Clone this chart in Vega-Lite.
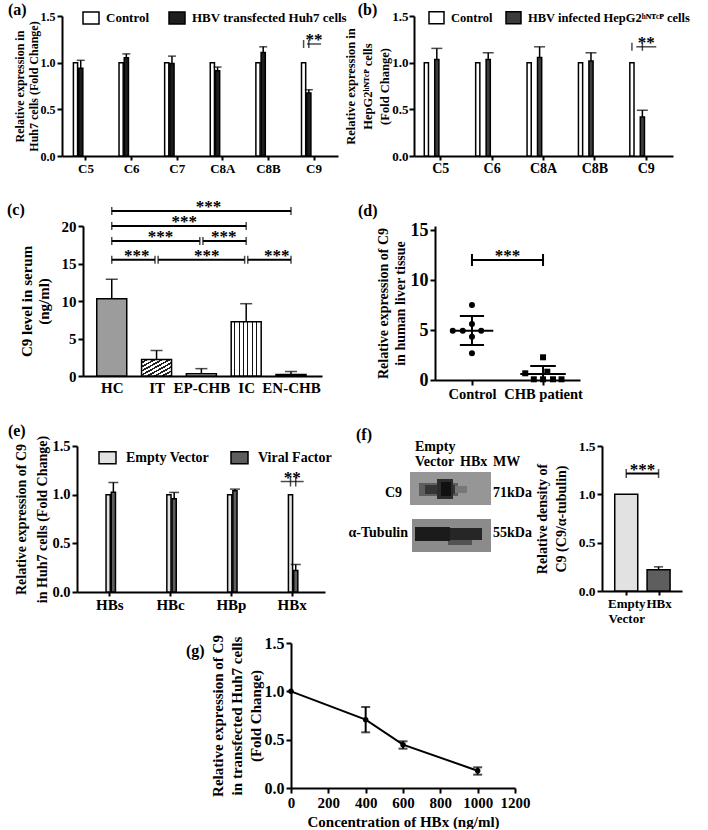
{
"$schema":"https://vega.github.io/schema/vega-lite/v6.json",
"background":"white",
"padding":{"left":0,"top":2,"right":0,"bottom":0},
"config":{
 "view":{"stroke":null},
 "font":"Liberation Serif",
 "axis":{"labelFont":"Liberation Serif","labelFontWeight":"bold","labelColor":"black","titleFont":"Liberation Serif","titleFontWeight":"bold","titleColor":"black","domainColor":"black","domainWidth":2,"tickColor":"black","tickWidth":2,"tickSize":5,"grid":false,"labelPadding":2,"labelFlush":false,"labelOverlap":false,"labelAngle":0},
 "title":{"font":"Liberation Serif","fontWeight":"bold","fontSize":16,"color":"black","anchor":"start","frame":"bounds"},
 "text":{"font":"Liberation Serif","fontWeight":"bold","color":"black"},
 "legend":{"labelFont":"Liberation Serif","labelFontWeight":"bold","labelColor":"black","padding":0,"offset":0}
},
"datasets":{
 "sp":[{"a":1}],
 "cbr":[{"id":1,"pos":0,"y":22},{"id":1,"pos":4,"y":22},{"id":2,"pos":0,"y":20},{"id":2,"pos":3,"y":20},{"id":3,"pos":0,"y":18},{"id":3,"pos":1.965,"y":18},{"id":4,"pos":2.035,"y":18},{"id":4,"pos":3,"y":18},{"id":5,"pos":0,"y":15.5},{"id":5,"pos":0.965,"y":15.5},{"id":6,"pos":1.035,"y":15.5},{"id":6,"pos":2.965,"y":15.5},{"id":7,"pos":3.035,"y":15.5},{"id":7,"pos":4,"y":15.5}]
},
"resolve":{"scale":{"fill":"independent","shape":"independent"},"legend":{"fill":"independent","shape":"independent"}},
"spacing":9,
"vconcat":[
 {"spacing":22,
  "resolve":{"scale":{"fill":"independent","shape":"independent"},"legend":{"fill":"independent","shape":"independent"}},
  "vconcat":[
  {"spacing":0,
   "resolve":{"scale":{"fill":"independent"},"legend":{"fill":"independent"}},
   "hconcat":[
   {"width":1,"height":1,"data":{"name":"sp"},"mark":{"type":"point","opacity":0},"encoding":{}},
   {"spacing":-3,
    "resolve":{"scale":{"fill":"independent"},"legend":{"fill":"independent"}},
    "hconcat":[
   {
    "width":276,"height":140,
    "title":{"text":"(a)","dx":-5,"offset":-9},
    "data":{"values":[
     {"gene":"C5","group":"Control","value":1},
     {"gene":"C5","group":"HBV transfected Huh7 cells","value":0.94,"err":1.025},
     {"gene":"C6","group":"Control","value":1},
     {"gene":"C6","group":"HBV transfected Huh7 cells","value":1.054,"err":1.094},
     {"gene":"C7","group":"Control","value":1},
     {"gene":"C7","group":"HBV transfected Huh7 cells","value":0.99,"err":1.07},
     {"gene":"C8A","group":"Control","value":1},
     {"gene":"C8A","group":"HBV transfected Huh7 cells","value":0.914,"err":0.953},
     {"gene":"C8B","group":"Control","value":1},
     {"gene":"C8B","group":"HBV transfected Huh7 cells","value":1.108,"err":1.17},
     {"gene":"C9","group":"Control","value":1},
     {"gene":"C9","group":"HBV transfected Huh7 cells","value":0.676,"err":0.71}
    ]},
    "encoding":{"x":{"field":"gene","type":"nominal","scale":{"domain":["C5","C6","C7","C8A","C8B","C9"],"paddingInner":0.45,"paddingOuter":0.25},"axis":{"title":null,"ticks":true,"tickSize":4,"labelFontSize":13,"labelPadding":2}}},
    "layer":[
     {"mark":{"type":"bar","stroke":"black","strokeWidth":1.5},
      "encoding":{
       "xOffset":{"field":"group","type":"nominal","scale":{"domain":["Control","HBV transfected Huh7 cells"],"paddingInner":0.2}},
       "y":{"field":"value","type":"quantitative","scale":{"domain":[0,1.5],"nice":false},"axis":{"values":[0,0.5,1,1.5],"format":".1f","labelFontSize":12,"title":["Relative expression in","Huh7 cells (Fold Change)"],"titleFontSize":12,"titleLineHeight":14,"titlePadding":0}},
       "fill":{"field":"group","type":"nominal","scale":{"domain":["Control","HBV transfected Huh7 cells"],"range":["white","#1e1e1e"]},"legend":{"orient":"none","legendX":20,"legendY":-7,"direction":"horizontal","columns":2,"title":null,"symbolType":"M-1,-0.75H1V0.75H-1Z","symbolSize":256,"labelFontSize":13,"labelOffset":6,"columnPadding":16,"symbolStrokeColor":"black","symbolStrokeWidth":1.5,"encode":{"symbols":{"update":{"stroke":{"value":"black"},"strokeWidth":{"value":1.5}}}}}}
      }},
     {"transform":[{"filter":"isValid(datum.err)"}],
      "mark":{"type":"rule","color":"black","strokeWidth":1.5},
      "encoding":{
       "xOffset":{"field":"group","type":"nominal","scale":{"domain":["Control","HBV transfected Huh7 cells"],"paddingInner":0.2}},
       "y":{"field":"value","type":"quantitative","scale":{"domain":[0,1.5],"nice":false}},
       "y2":{"field":"err"}}},
     {"transform":[{"filter":"isValid(datum.err)"}],
      "mark":{"type":"tick","orient":"horizontal","color":"black","size":8,"thickness":1.5},
      "encoding":{
       "xOffset":{"field":"group","type":"nominal","scale":{"domain":["Control","HBV transfected Huh7 cells"],"paddingInner":0.2}},
       "y":{"field":"err","type":"quantitative","scale":{"domain":[0,1.5],"nice":false}}}},
     {"data":{"values":[{"gene":"C9","group":"Control","y":1.2},{"gene":"C9","group":"HBV transfected Huh7 cells","y":1.2}]},
      "mark":{"type":"tick","orient":"vertical","color":"black","size":8,"thickness":1.5},
      "encoding":{
       "xOffset":{"field":"group","type":"nominal","scale":{"domain":["Control","HBV transfected Huh7 cells"],"paddingInner":0.2}},
       "y":{"field":"y","type":"quantitative","scale":{"domain":[0,1.5],"nice":false}}}},
     {"data":{"values":[{"gene":"C9","y":1.2,"label":"**"}]},
      "mark":{"type":"tick","orient":"horizontal","color":"black","size":14,"thickness":1.5},
      "encoding":{"y":{"field":"y","type":"quantitative","scale":{"domain":[0,1.5],"nice":false}}}},
     {"data":{"values":[{"gene":"C9","y":1.2,"label":"**"}]},
      "mark":{"type":"text","fontSize":17,"baseline":"alphabetic","dy":1},
      "encoding":{"y":{"field":"y","type":"quantitative","scale":{"domain":[0,1.5],"nice":false}},"text":{"field":"label"}}}
    ]
   },
   {
    "width":259,"height":140,
    "title":{"text":"(b)","dx":13,"offset":-9},
    "data":{"values":[
     {"gene":"C5","group":"Control","value":1},
     {"gene":"C5","group":"HBV infected HepG2ʰᴺᵀᶜᴾ cells","value":1.035,"err":1.153},
     {"gene":"C6","group":"Control","value":1},
     {"gene":"C6","group":"HBV infected HepG2ʰᴺᵀᶜᴾ cells","value":1.035,"err":1.106},
     {"gene":"C8A","group":"Control","value":1},
     {"gene":"C8A","group":"HBV infected HepG2ʰᴺᵀᶜᴾ cells","value":1.056,"err":1.17},
     {"gene":"C8B","group":"Control","value":1},
     {"gene":"C8B","group":"HBV infected HepG2ʰᴺᵀᶜᴾ cells","value":1.017,"err":1.106},
     {"gene":"C9","group":"Control","value":1},
     {"gene":"C9","group":"HBV infected HepG2ʰᴺᵀᶜᴾ cells","value":0.419,"err":0.49}
    ]},
    "encoding":{"x":{"field":"gene","type":"nominal","scale":{"domain":["C5","C6","C8A","C8B","C9"],"paddingInner":0.36,"paddingOuter":0.2},"axis":{"title":null,"ticks":true,"tickSize":4,"labelFontSize":14,"labelPadding":1}}},
    "layer":[
     {"mark":{"type":"bar","stroke":"black","strokeWidth":1.5},
      "encoding":{
       "xOffset":{"field":"group","type":"nominal","scale":{"domain":["Control","HBV infected HepG2ʰᴺᵀᶜᴾ cells"],"paddingInner":0.36}},
       "y":{"field":"value","type":"quantitative","scale":{"domain":[0,1.5],"nice":false},"axis":{"values":[0,0.5,1,1.5],"format":".1f","labelFontSize":13,"labelPadding":1,"title":["Relative expression in","HepG2ʰᴺᵀᶜᴾ cells","(Fold Change)"],"titleFontSize":12.5,"titleLineHeight":17,"titlePadding":0}},
       "fill":{"field":"group","type":"nominal","scale":{"domain":["Control","HBV infected HepG2ʰᴺᵀᶜᴾ cells"],"range":["white","#3c3c3c"]},"legend":{"orient":"none","legendX":14,"legendY":-7,"direction":"horizontal","columns":2,"title":null,"symbolType":"M-1,-0.8H1V0.8H-1Z","symbolSize":225,"labelFontSize":12.5,"labelOffset":6,"columnPadding":10,"labelLimit":400,"symbolStrokeColor":"black","symbolStrokeWidth":1.5,"encode":{"symbols":{"update":{"stroke":{"value":"black"},"strokeWidth":{"value":1.5}}}}}}
      }},
     {"transform":[{"filter":"isValid(datum.err)"}],
      "mark":{"type":"rule","color":"black","strokeWidth":1.5},
      "encoding":{
       "xOffset":{"field":"group","type":"nominal","scale":{"domain":["Control","HBV infected HepG2ʰᴺᵀᶜᴾ cells"],"paddingInner":0.36}},
       "y":{"field":"value","type":"quantitative","scale":{"domain":[0,1.5],"nice":false}},
       "y2":{"field":"err"}}},
     {"transform":[{"filter":"isValid(datum.err)"}],
      "mark":{"type":"tick","orient":"horizontal","color":"black","size":11,"thickness":1.5},
      "encoding":{
       "xOffset":{"field":"group","type":"nominal","scale":{"domain":["Control","HBV infected HepG2ʰᴺᵀᶜᴾ cells"],"paddingInner":0.36}},
       "y":{"field":"err","type":"quantitative","scale":{"domain":[0,1.5],"nice":false}}}},
     {"data":{"values":[{"gene":"C9","group":"Control","y":1.17},{"gene":"C9","group":"HBV infected HepG2ʰᴺᵀᶜᴾ cells","y":1.17}]},
      "mark":{"type":"tick","orient":"vertical","color":"black","size":8,"thickness":1.5},
      "encoding":{
       "xOffset":{"field":"group","type":"nominal","scale":{"domain":["Control","HBV infected HepG2ʰᴺᵀᶜᴾ cells"],"paddingInner":0.36}},
       "y":{"field":"y","type":"quantitative","scale":{"domain":[0,1.5],"nice":false}}}},
     {"data":{"values":[{"gene":"C9","y":1.17,"label":"**"}]},
      "mark":{"type":"tick","orient":"horizontal","color":"black","size":20,"thickness":1.5},
      "encoding":{"y":{"field":"y","type":"quantitative","scale":{"domain":[0,1.5],"nice":false}}}},
     {"data":{"values":[{"gene":"C9","y":1.17,"label":"**"}]},
      "mark":{"type":"text","fontSize":17,"baseline":"alphabetic","dy":1},
      "encoding":{"y":{"field":"y","type":"quantitative","scale":{"domain":[0,1.5],"nice":false}},"text":{"field":"label"}}}
    ]
   }
  ]}]},
  {"spacing":0,
   "resolve":{"scale":{"fill":"independent","shape":"independent"},"legend":{"fill":"independent","shape":"independent"}},
   "hconcat":[
   {"width":1,"height":1,"data":{"name":"sp"},"mark":{"type":"point","opacity":0},"encoding":{}},
   {"spacing":36,
    "resolve":{"scale":{"fill":"independent","shape":"independent"},"legend":{"fill":"independent","shape":"independent"}},
    "hconcat":[
   {
    "width":239,"height":150,
    "title":{"text":"(c)","dx":-12,"offset":-20},
    "layer":[
     {"data":{"values":[
       {"cat":"HC","pos":0,"value":10.3,"err":12.9},
       {"cat":"IT","pos":1,"value":2.2,"err":3.4},
       {"cat":"EP-CHB","pos":2,"value":0.3,"err":0.98},
       {"cat":"IC","pos":3,"value":7.24,"err":9.64},
       {"cat":"EN-CHB","pos":4,"value":0.2,"err":0.6}]},
      "layer":[
       {"mark":{"type":"bar","orient":"vertical","width":30,"stroke":"black","strokeWidth":1.5},
        "encoding":{
         "x":{"field":"pos","type":"quantitative","scale":{"domain":[-0.53,4.58],"nice":false,"zero":false},"axis":{"title":null,"values":[0,1,2,3,4],"labelExpr":"['HC','IT','EP-CHB','IC','EN-CHB'][datum.value]","ticks":false,"labelFontSize":15,"labelPadding":4}},
         "y":{"field":"value","type":"quantitative","scale":{"domain":[0,20],"nice":false},"axis":{"values":[0,5,10,15,20],"labelFontSize":15,"title":["C9 level in serum","(ng/ml)"],"titleFontSize":15,"titleLineHeight":17,"titlePadding":10}},
         "fill":{"condition":[
           {"test":"datum.cat==='IT'","value":{"gradient":"linear","x1":0,"y1":0,"x2":1,"y2":1,"stops":[{"offset":0,"color":"#ffffff"},{"offset":0.069,"color":"#ffffff"},{"offset":0.069,"color":"#222222"},{"offset":0.125,"color":"#222222"},{"offset":0.125,"color":"#ffffff"},{"offset":0.194,"color":"#ffffff"},{"offset":0.194,"color":"#222222"},{"offset":0.25,"color":"#222222"},{"offset":0.25,"color":"#ffffff"},{"offset":0.319,"color":"#ffffff"},{"offset":0.319,"color":"#222222"},{"offset":0.375,"color":"#222222"},{"offset":0.375,"color":"#ffffff"},{"offset":0.444,"color":"#ffffff"},{"offset":0.444,"color":"#222222"},{"offset":0.5,"color":"#222222"},{"offset":0.5,"color":"#ffffff"},{"offset":0.569,"color":"#ffffff"},{"offset":0.569,"color":"#222222"},{"offset":0.625,"color":"#222222"},{"offset":0.625,"color":"#ffffff"},{"offset":0.694,"color":"#ffffff"},{"offset":0.694,"color":"#222222"},{"offset":0.75,"color":"#222222"},{"offset":0.75,"color":"#ffffff"},{"offset":0.819,"color":"#ffffff"},{"offset":0.819,"color":"#222222"},{"offset":0.875,"color":"#222222"},{"offset":0.875,"color":"#ffffff"},{"offset":0.944,"color":"#ffffff"},{"offset":0.944,"color":"#222222"},{"offset":1,"color":"#222222"}]}},
           {"test":"datum.cat==='IC'","value":{"gradient":"linear","x1":0,"y1":0,"x2":1,"y2":0,"stops":[{"offset":0,"color":"#ffffff"},{"offset":0.107,"color":"#ffffff"},{"offset":0.107,"color":"#111111"},{"offset":0.143,"color":"#111111"},{"offset":0.143,"color":"#ffffff"},{"offset":0.25,"color":"#ffffff"},{"offset":0.25,"color":"#111111"},{"offset":0.286,"color":"#111111"},{"offset":0.286,"color":"#ffffff"},{"offset":0.393,"color":"#ffffff"},{"offset":0.393,"color":"#111111"},{"offset":0.429,"color":"#111111"},{"offset":0.429,"color":"#ffffff"},{"offset":0.536,"color":"#ffffff"},{"offset":0.536,"color":"#111111"},{"offset":0.571,"color":"#111111"},{"offset":0.571,"color":"#ffffff"},{"offset":0.679,"color":"#ffffff"},{"offset":0.679,"color":"#111111"},{"offset":0.714,"color":"#111111"},{"offset":0.714,"color":"#ffffff"},{"offset":0.821,"color":"#ffffff"},{"offset":0.821,"color":"#111111"},{"offset":0.857,"color":"#111111"},{"offset":0.857,"color":"#ffffff"},{"offset":1,"color":"#ffffff"}]}},
           {"test":"datum.cat==='EP-CHB'","value":"#d8d8d8"},
           {"test":"datum.cat==='EN-CHB'","value":"#555555"}],
          "value":"#9c9c9c"}
        }},
       {"mark":{"type":"rule","color":"black","strokeWidth":1.5},
        "encoding":{
         "x":{"field":"pos","type":"quantitative","scale":{"domain":[-0.53,4.58],"nice":false,"zero":false}},
         "y":{"field":"value","type":"quantitative","scale":{"domain":[0,20],"nice":false},"axis":{"values":[0,5,10,15,20],"labelFontSize":15,"title":["C9 level in serum","(ng/ml)"],"titleFontSize":15,"titleLineHeight":17,"titlePadding":10}},
         "y2":{"field":"err"}}},
       {"mark":{"type":"tick","orient":"horizontal","color":"black","size":12,"thickness":1.5},
        "encoding":{
         "x":{"field":"pos","type":"quantitative","scale":{"domain":[-0.53,4.58],"nice":false,"zero":false}},
         "y":{"field":"err","type":"quantitative","scale":{"domain":[0,20],"nice":false},"axis":{"values":[0,5,10,15,20],"labelFontSize":15,"title":["C9 level in serum","(ng/ml)"],"titleFontSize":15,"titleLineHeight":17,"titlePadding":10}}}}
      ]},
     {"data":{"name":"cbr"},
      "mark":{"type":"line","color":"black","strokeWidth":2},
      "encoding":{
       "x":{"field":"pos","type":"quantitative","scale":{"domain":[-0.53,4.58],"nice":false,"zero":false}},
       "y":{"field":"y","type":"quantitative","scale":{"domain":[0,20],"nice":false},"axis":{"values":[0,5,10,15,20],"labelFontSize":15,"title":["C9 level in serum","(ng/ml)"],"titleFontSize":15,"titleLineHeight":17,"titlePadding":10}},
       "detail":{"field":"id","type":"nominal"}}},
     {"data":{"name":"cbr"},
      "mark":{"type":"tick","orient":"vertical","color":"black","size":8,"thickness":1.5},
      "encoding":{
       "x":{"field":"pos","type":"quantitative","scale":{"domain":[-0.53,4.58],"nice":false,"zero":false}},
       "y":{"field":"y","type":"quantitative","scale":{"domain":[0,20],"nice":false},"axis":{"values":[0,5,10,15,20],"labelFontSize":15,"title":["C9 level in serum","(ng/ml)"],"titleFontSize":15,"titleLineHeight":17,"titlePadding":10}}}},
     {"data":{"values":[{"pos":2.16,"y":22},{"pos":1.62,"y":20},{"pos":1.09,"y":18},{"pos":2.5,"y":18},{"pos":0.56,"y":15.5},{"pos":2.12,"y":15.5},{"pos":3.68,"y":15.5}]},
      "mark":{"type":"text","fontSize":17,"baseline":"alphabetic","dy":1,"text":"***"},
      "encoding":{
       "x":{"field":"pos","type":"quantitative","scale":{"domain":[-0.53,4.58],"nice":false,"zero":false}},
       "y":{"field":"y","type":"quantitative","scale":{"domain":[0,20],"nice":false},"axis":{"values":[0,5,10,15,20],"labelFontSize":15,"title":["C9 level in serum","(ng/ml)"],"titleFontSize":15,"titleLineHeight":17,"titlePadding":10}}}}
    ]
   },
   {
    "width":145,"height":154,
    "title":{"text":"(d)","dx":-18,"offset":2},
    "layer":[
     {"data":{"values":[
       {"grp":"Control","x":1.0,"y":7.5},{"grp":"Control","x":1.0,"y":5.6},{"grp":"Control","x":0.73,"y":4.93},{"grp":"Control","x":0.87,"y":4.93},{"grp":"Control","x":1.13,"y":4.93},{"grp":"Control","x":1.0,"y":4.33},{"grp":"Control","x":1.0,"y":2.67},
       {"grp":"CHB patient","x":2.0,"y":2.27},{"grp":"CHB patient","x":1.75,"y":0.67},{"grp":"CHB patient","x":2.06,"y":0.83},{"grp":"CHB patient","x":1.87,"y":0.07},{"grp":"CHB patient","x":2.0,"y":0.07},{"grp":"CHB patient","x":2.14,"y":0.07},{"grp":"CHB patient","x":2.26,"y":0.07}]},
      "mark":{"type":"point","filled":true,"color":"black","size":36,"opacity":1},
      "encoding":{
       "x":{"field":"x","type":"quantitative","scale":{"domain":[0.48,2.52],"nice":false,"zero":false},"axis":{"title":null,"values":[1,2],"labelExpr":"datum.value==1?'Control':'CHB patient'","labelFontSize":14.5,"labelPadding":2}},
       "y":{"field":"y","type":"quantitative","scale":{"domain":[0,15.4],"nice":false},"axis":{"values":[0,5,10,15],"labelFontSize":18,"title":["Relative expression of C9","in human liver tissue"],"titleFontSize":14,"titleLineHeight":17,"titlePadding":3}},
       "shape":{"field":"grp","type":"nominal","scale":{"domain":["Control","CHB patient"],"range":["circle","square"]},"legend":null}}},
     {"data":{"values":[
       {"x1":0.7,"x2":1.3,"y1":4.93,"y2":4.93},{"x1":1,"x2":1,"y1":3.5,"y2":6.4},{"x1":0.83,"x2":1.17,"y1":6.4,"y2":6.4},{"x1":0.83,"x2":1.17,"y1":3.5,"y2":3.5},
       {"x1":1.68,"x2":2.32,"y1":0.6,"y2":0.6},{"x1":2,"x2":2,"y1":0,"y2":1.4},{"x1":1.82,"x2":2.18,"y1":1.4,"y2":1.4},
       {"x1":1,"x2":2,"y1":12,"y2":12},{"x1":1,"x2":1,"y1":11.4,"y2":12.6},{"x1":2,"x2":2,"y1":11.4,"y2":12.6}]},
      "mark":{"type":"rule","color":"black","strokeWidth":2},
      "encoding":{
       "x":{"field":"x1","type":"quantitative","scale":{"domain":[0.48,2.52],"nice":false,"zero":false}},
       "x2":{"field":"x2"},
       "y":{"field":"y1","type":"quantitative","scale":{"domain":[0,15.4],"nice":false}},
       "y2":{"field":"y2"}}},
     {"data":{"values":[{"x":1.5,"y":12}]},
      "mark":{"type":"text","fontSize":17,"baseline":"alphabetic","dy":1,"text":"***"},
      "encoding":{
       "x":{"field":"x","type":"quantitative","scale":{"domain":[0.48,2.52],"nice":false,"zero":false}},
       "y":{"field":"y","type":"quantitative","scale":{"domain":[0,15.4],"nice":false}}}}
    ]
   }
  ]}]},
  {"spacing":0,
   "resolve":{"scale":{"fill":"independent"},"legend":{"fill":"independent"}},
   "hconcat":[
   {"width":1,"height":1,"data":{"name":"sp"},"mark":{"type":"point","opacity":0},"encoding":{}},
   {"spacing":3,
    "resolve":{"scale":{"fill":"independent"},"legend":{"fill":"independent"}},
    "hconcat":[
   {
    "width":248,"height":146,
    "title":{"text":"(e)","dx":-7,"offset":-4},
    "data":{"values":[
     {"gene":"HBs","group":"Empty Vector","value":1},
     {"gene":"HBs","group":"Viral Factor","value":1.026,"err":1.125},
     {"gene":"HBc","group":"Empty Vector","value":1},
     {"gene":"HBc","group":"Viral Factor","value":0.958,"err":1.023},
     {"gene":"HBp","group":"Empty Vector","value":1},
     {"gene":"HBp","group":"Viral Factor","value":1.04,"err":1.057},
     {"gene":"HBx","group":"Empty Vector","value":1},
     {"gene":"HBx","group":"Viral Factor","value":0.222,"err":0.283}
    ]},
    "encoding":{"x":{"field":"gene","type":"nominal","scale":{"domain":["HBs","HBc","HBp","HBx"],"paddingInner":0.36,"paddingOuter":0.22},"axis":{"title":null,"ticks":true,"tickSize":4,"labelFontSize":15,"labelPadding":1}}},
    "layer":[
     {"mark":{"type":"bar","stroke":"black","strokeWidth":1.5},
      "encoding":{
       "xOffset":{"field":"group","type":"nominal","scale":{"domain":["Empty Vector","Viral Factor"],"paddingInner":0.3}},
       "y":{"field":"value","type":"quantitative","scale":{"domain":[0,1.5],"nice":false},"axis":{"values":[0,0.5,1,1.5],"format":".1f","labelFontSize":14.5,"title":["Relative expression of C9","in Huh7 cells (Fold Change)"],"titleFontSize":14,"titleLineHeight":21,"titlePadding":2}},
       "fill":{"field":"group","type":"nominal","scale":{"domain":["Empty Vector","Viral Factor"],"range":["#e2e2e2","#5e5e5e"]},"legend":{"orient":"none","legendX":21,"legendY":2,"direction":"horizontal","columns":2,"title":null,"symbolType":"M-1,-0.7H1V0.7H-1Z","symbolSize":289,"labelFontSize":14,"labelOffset":9,"columnPadding":18,"symbolStrokeColor":"black","symbolStrokeWidth":1.5,"encode":{"symbols":{"update":{"stroke":{"value":"black"},"strokeWidth":{"value":1.5}}}}}}
      }},
     {"transform":[{"filter":"isValid(datum.err)"}],
      "mark":{"type":"rule","color":"black","strokeWidth":1.5},
      "encoding":{
       "xOffset":{"field":"group","type":"nominal","scale":{"domain":["Empty Vector","Viral Factor"],"paddingInner":0.3}},
       "y":{"field":"value","type":"quantitative","scale":{"domain":[0,1.5],"nice":false}},
       "y2":{"field":"err"}}},
     {"transform":[{"filter":"isValid(datum.err)"}],
      "mark":{"type":"tick","orient":"horizontal","color":"black","size":10,"thickness":1.5},
      "encoding":{
       "xOffset":{"field":"group","type":"nominal","scale":{"domain":["Empty Vector","Viral Factor"],"paddingInner":0.3}},
       "y":{"field":"err","type":"quantitative","scale":{"domain":[0,1.5],"nice":false}}}},
     {"data":{"values":[{"gene":"HBx","group":"Empty Vector","y":1.135},{"gene":"HBx","group":"Viral Factor","y":1.135}]},
      "mark":{"type":"tick","orient":"vertical","color":"black","size":10,"thickness":1.5},
      "encoding":{
       "xOffset":{"field":"group","type":"nominal","scale":{"domain":["Empty Vector","Viral Factor"],"paddingInner":0.3}},
       "y":{"field":"y","type":"quantitative","scale":{"domain":[0,1.5],"nice":false}}}},
     {"data":{"values":[{"gene":"HBx","y":1.135,"label":"**"}]},
      "mark":{"type":"tick","orient":"horizontal","color":"black","size":23,"thickness":1.5},
      "encoding":{"y":{"field":"y","type":"quantitative","scale":{"domain":[0,1.5],"nice":false}}}},
     {"data":{"values":[{"gene":"HBx","y":1.135,"label":"**"}]},
      "mark":{"type":"text","fontSize":17,"baseline":"alphabetic","dy":1},
      "encoding":{"y":{"field":"y","type":"quantitative","scale":{"domain":[0,1.5],"nice":false}},"text":{"field":"label"}}}
    ]
   },
   {
    "width":156,"height":146,
    "layer":[
     {"data":{"values":[
       {"x1":0,"x2":81,"y1":26,"y2":59,"shade":0.38},
       {"x1":2,"x2":81,"y1":73,"y2":106,"shade":0.42},
       {"x1":9,"x2":48,"y1":37,"y2":50,"shade":0.6},
       {"x1":15,"x2":45,"y1":39,"y2":48,"shade":0.78},
       {"x1":27,"x2":43,"y1":33,"y2":53,"shade":0.82},
       {"x1":31,"x2":41,"y1":36,"y2":50,"shade":0.95},
       {"x1":45,"x2":57,"y1":40,"y2":47,"shade":0.5},
       {"x1":38,"x2":62,"y1":92,"y2":99,"shade":0.65},
       {"x1":5,"x2":72,"y1":82,"y2":94,"shade":0.85},
       {"x1":5,"x2":40,"y1":81,"y2":95,"shade":0.9}]},
      "mark":{"type":"rect"},
      "encoding":{
       "x":{"field":"x1","type":"quantitative","scale":{"domain":[-75,81],"nice":false,"zero":false},"axis":null},
       "x2":{"field":"x2"},
       "y":{"field":"y1","type":"quantitative","scale":{"domain":[0,146],"nice":false,"zero":false,"reverse":true},"axis":null},
       "y2":{"field":"y2"},
       "fill":{"field":"shade","type":"quantitative","scale":{"domain":[0,1],"range":["#ffffff","#000000"]},"legend":null}}},
     {"data":{"values":[{"t":"Empty","x":5,"y":5},{"t":"Vector","x":5,"y":20},{"t":"HBx","x":50,"y":20},{"t":"MW","x":83,"y":20},{"t":"71kDa","x":83,"y":51},{"t":"55kDa","x":83,"y":91}]},
      "mark":{"type":"text","align":"left","baseline":"alphabetic","fontSize":14},
      "encoding":{
       "x":{"field":"x","type":"quantitative","scale":{"domain":[-75,81],"nice":false,"zero":false},"axis":null},
       "y":{"field":"y","type":"quantitative","scale":{"domain":[0,146],"nice":false,"zero":false,"reverse":true},"axis":null},
       "text":{"field":"t"}}},
     {"data":{"values":[{"t":"(f)","x":-54,"y":-6}]},
      "mark":{"type":"text","align":"left","baseline":"alphabetic","fontSize":16},
      "encoding":{
       "x":{"field":"x","type":"quantitative","scale":{"domain":[-75,81],"nice":false,"zero":false},"axis":null},
       "y":{"field":"y","type":"quantitative","scale":{"domain":[0,146],"nice":false,"zero":false,"reverse":true},"axis":null},
       "text":{"field":"t"}}},
     {"data":{"values":[{"t":"C9","x":-8,"y":51},{"t":"α-Tubulin","x":-2,"y":91}]},
      "mark":{"type":"text","align":"right","baseline":"alphabetic","fontSize":14},
      "encoding":{
       "x":{"field":"x","type":"quantitative","scale":{"domain":[-75,81],"nice":false,"zero":false},"axis":null},
       "y":{"field":"y","type":"quantitative","scale":{"domain":[0,146],"nice":false,"zero":false,"reverse":true},"axis":null},
       "text":{"field":"t"}}}
    ]
   },
   {
    "width":80,"height":145,
    "layer":[
     {"data":{"values":[{"cat":"Empty Vector","pos":0,"value":1},{"cat":"HBx","pos":1,"value":0.22,"err":0.25}]},
      "layer":[
       {"mark":{"type":"bar","orient":"vertical","width":23,"stroke":"black","strokeWidth":1.5},
        "encoding":{
         "x":{"field":"pos","type":"quantitative","scale":{"domain":[-0.595,1.57],"nice":false,"zero":false},"axis":{"title":null,"values":[0,1],"labelExpr":"datum.value==0?['Empty','Vector']:'HBx'","ticks":true,"tickSize":4,"labelFontSize":13,"labelPadding":2}},
         "y":{"field":"value","type":"quantitative","scale":{"domain":[0,1.5],"nice":false},"axis":{"values":[0,0.5,1,1.5],"format":".1f","labelFontSize":13.5,"title":["Relative density of","C9 (C9/α-tubulin)"],"titleFontSize":14,"titleLineHeight":19,"titlePadding":10}},
         "fill":{"condition":{"test":"datum.pos==1","value":"#5e5e5e"},"value":"#e2e2e2"}}},
       {"transform":[{"filter":"isValid(datum.err)"}],
        "mark":{"type":"rule","color":"black","strokeWidth":1.5},
        "encoding":{
         "x":{"field":"pos","type":"quantitative","scale":{"domain":[-0.595,1.57],"nice":false,"zero":false}},
         "y":{"field":"value","type":"quantitative","scale":{"domain":[0,1.5],"nice":false}},
         "y2":{"field":"err"}}},
       {"transform":[{"filter":"isValid(datum.err)"}],
        "mark":{"type":"tick","orient":"horizontal","color":"black","size":9,"thickness":1.5},
        "encoding":{
         "x":{"field":"pos","type":"quantitative","scale":{"domain":[-0.595,1.57],"nice":false,"zero":false}},
         "y":{"field":"err","type":"quantitative","scale":{"domain":[0,1.5],"nice":false}}}}
      ]},
     {"data":{"values":[{"id":1,"pos":0,"y":1.215},{"id":1,"pos":1,"y":1.215}]},
      "layer":[
       {"mark":{"type":"line","color":"black","strokeWidth":2},
        "encoding":{
         "x":{"field":"pos","type":"quantitative","scale":{"domain":[-0.595,1.57],"nice":false,"zero":false}},
         "y":{"field":"y","type":"quantitative","scale":{"domain":[0,1.5],"nice":false}}}},
       {"mark":{"type":"tick","orient":"vertical","color":"black","size":9,"thickness":1.5},
        "encoding":{
         "x":{"field":"pos","type":"quantitative","scale":{"domain":[-0.595,1.57],"nice":false,"zero":false}},
         "y":{"field":"y","type":"quantitative","scale":{"domain":[0,1.5],"nice":false}}}}
      ]},
     {"data":{"values":[{"pos":0.5,"y":1.215}]},
      "mark":{"type":"text","fontSize":17,"baseline":"alphabetic","dy":1,"text":"***"},
      "encoding":{
       "x":{"field":"pos","type":"quantitative","scale":{"domain":[-0.595,1.57],"nice":false,"zero":false}},
       "y":{"field":"y","type":"quantitative","scale":{"domain":[0,1.5],"nice":false}}}}
    ]
   }
  ]}]}
 ]},
 {"spacing":179,
  "hconcat":[
  {"width":1,"height":1,"data":{"name":"sp"},"mark":{"type":"point","opacity":0},"encoding":{}},
  {
  "width":224,"height":145,
  "title":{"text":"(g)","dx":-24,"offset":-24},
  "data":{"values":[{"conc":0,"v":1.0},{"conc":400,"v":0.707,"lo":0.576,"hi":0.838},{"conc":600,"v":0.448,"lo":0.407,"hi":0.483},{"conc":1000,"v":0.179,"lo":0.138,"hi":0.214}]},
  "encoding":{"x":{"field":"conc","type":"quantitative","scale":{"domain":[0,1200],"nice":false},"axis":{"values":[0,200,400,600,800,1000,1200],"format":"d","labelFontSize":15,"title":"Concentration of HBx (ng/ml)","titleFontSize":15,"titlePadding":4}}},
  "layer":[
   {"mark":{"type":"line","color":"black","strokeWidth":2},
    "encoding":{"y":{"field":"v","type":"quantitative","scale":{"domain":[0,1.5],"nice":false},"axis":{"values":[0,0.5,1,1.5],"format":".1f","labelFontSize":16,"title":["Relative expression of C9","in transfected Huh7 cells","(Fold Change)"],"titleFontSize":15,"titleLineHeight":19,"titlePadding":1}}}},
   {"mark":{"type":"point","filled":true,"color":"black","size":30,"opacity":1},
    "encoding":{"y":{"field":"v","type":"quantitative","scale":{"domain":[0,1.5],"nice":false}}}},
   {"transform":[{"filter":"isValid(datum.lo)"}],
    "mark":{"type":"rule","color":"black","strokeWidth":2},
    "encoding":{"y":{"field":"lo","type":"quantitative","scale":{"domain":[0,1.5],"nice":false}},"y2":{"field":"hi"}}},
   {"transform":[{"filter":"isValid(datum.lo)"}],
    "mark":{"type":"tick","orient":"horizontal","color":"black","size":9,"thickness":2},
    "encoding":{"y":{"field":"lo","type":"quantitative","scale":{"domain":[0,1.5],"nice":false}}}},
   {"transform":[{"filter":"isValid(datum.lo)"}],
    "mark":{"type":"tick","orient":"horizontal","color":"black","size":9,"thickness":2},
    "encoding":{"y":{"field":"hi","type":"quantitative","scale":{"domain":[0,1.5],"nice":false}}}}
  ]
 }]}
]
}
